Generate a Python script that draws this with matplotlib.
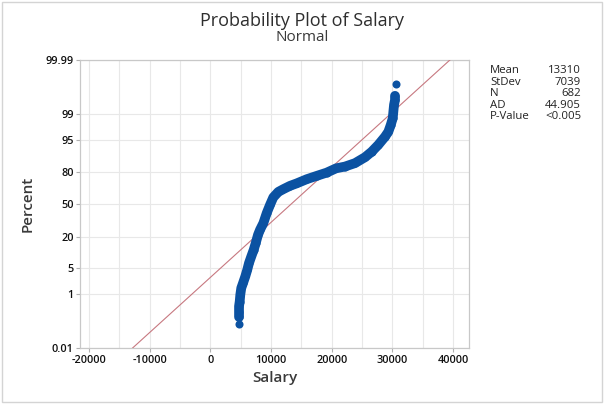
from statistics import NormalDist

import numpy as np
import matplotlib.pyplot as plt
from matplotlib.patches import Rectangle
from matplotlib.ticker import MultipleLocator

plt.rcParams['font.family'] = ['Open Sans', 'DejaVu Sans']

# valores (percentil, salario)
percent = [0.10, 0.18, 0.28, 0.42, 0.60, 0.97, 1.52, 2.09, 3.10, 4.52, 6.41, 8.84,
           11.94, 15.74, 21.44, 25.39, 31.22, 40.83, 49.28, 56.96, 62.44, 65.05,
           68.15, 70.4, 74.0, 76.7, 79.2, 82.2, 83.4, 85.5, 88.7, 91.2, 93.7, 95.9,
           96.9, 97.95, 98.67, 99.15, 99.48, 99.64, 99.74, 99.90]
salary = [4730, 4730, 4730, 4730, 4840, 4940, 5100, 5390, 5760, 6090, 6370, 6750,
          7150, 7480, 7860, 8190, 8740, 9290, 9840, 10380, 11210, 12030,
          13130, 14240, 15890, 17530, 19180, 20720, 22200, 23850, 25500, 26600, 27690, 28790,
          29340, 29740, 30070, 30170, 30280, 30440, 30440, 30610]

mean = 13310
stdev = 7039
n = 682
ad = 44.905
pval = "<0.005"

yticks = [0.01, 1, 5, 20, 50, 80, 95, 99, 99.99]
xticks = [-20000, -10000, 0, 10000, 20000, 30000, 40000]

nd = NormalDist()


def z(p):
    return np.array([nd.inv_cdf(v / 100) for v in np.atleast_1d(p)])


BLUE = '#0B52A2'
GRID = '#E8E8E8'

fig = plt.figure(figsize=(6.04, 4.04), dpi=100)
fig.patches.append(Rectangle((0.004, 0.006), 0.992, 0.99, transform=fig.transFigure,
                             fill=False, edgecolor='#D4D4D4', lw=1.0))

ax = fig.add_axes([0.1325, 0.1379, 0.644, 0.7136])

# linea ajustada normal
zlim = z([0.01, 99.99])
ax.plot(mean + stdev * zlim, zlim, color='#C77880', lw=0.8, zorder=3)

# puntos
zs = z(percent)
ax.plot(salary[1:41], zs[1:41], color=BLUE, lw=7, solid_capstyle='round',
        solid_joinstyle='round', zorder=4)
ax.plot(salary, zs, 'o', color=BLUE, ms=5.8, mew=0, zorder=5)

ax.set_xlim(-21480, 42640)
ax.set_ylim(zlim[0], zlim[1])
ax.set_xticks(xticks)
ax.set_xticklabels([str(v) for v in xticks])
ax.xaxis.set_minor_locator(MultipleLocator(5000))
ax.set_yticks(z(yticks))
ax.set_yticklabels(['0.01', '1', '5', '20', '50', '80', '95', '99', '99.99'])

ax.grid(True, which='both', color=GRID, lw=0.8, zorder=0)
ax.set_axisbelow(True)
for s in ax.spines.values():
    s.set_color('#C8C8C8')
    s.set_linewidth(0.9)
ax.tick_params(which='major', length=3, color='#B0B0B0', labelsize=7.8, labelcolor='#111111', pad=1.5)
ax.tick_params(which='minor', length=0)
for t in ax.get_xticklabels() + ax.get_yticklabels():
    t.set_fontweight('semibold')

ax.set_xlabel('Salary', fontsize=11, color='#3A3A3A', labelpad=4, fontweight='semibold')
ax.set_ylabel('Percent', fontsize=11, color='#3A3A3A', labelpad=8, fontweight='semibold')

fig.text(0.5, 0.948, 'Probability Plot of Salary', ha='center', va='center',
         fontsize=13, color='#2E2E2E')
fig.text(0.5, 0.906, 'Normal', ha='center', va='center', fontsize=11, color='#3A3A3A')

labels = ['Mean', 'StDev', 'N', 'AD', 'P-Value']
values = [str(mean), str(stdev), str(n), f'{ad:.3f}', pval]
for i, (lab, val) in enumerate(zip(labels, values)):
    y = 1 - (70.5 + i * 11.6) / 404
    fig.text(490 / 604, y, lab, ha='left', va='center', fontsize=8.2, color='#222222')
    fig.text(581 / 604, y, val, ha='right', va='center', fontsize=8.2, color='#222222')

fig.savefig('out.png', dpi=100)
